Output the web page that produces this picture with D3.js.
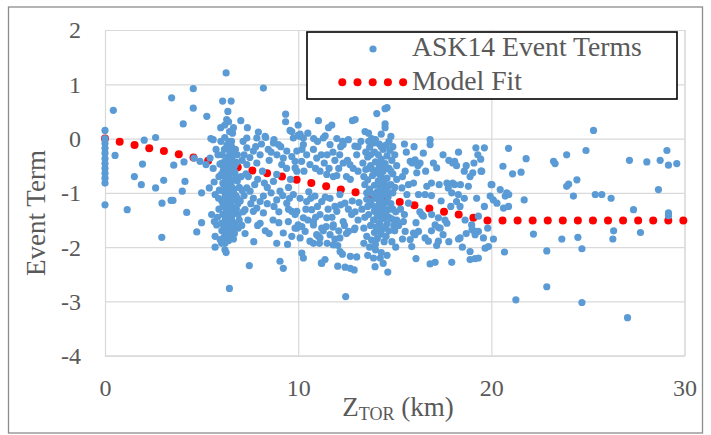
<!DOCTYPE html>
<html>
<head>
<meta charset="utf-8">
<script src="https://cdn.jsdelivr.net/npm/d3@7/dist/d3.min.js"></script>
<style>
  html, body { margin: 0; padding: 0; background: #fff; }
  svg { display: block; }
  text { font-family: "Liberation Serif", "Times New Roman", serif; fill: #595959; }
</style>
</head>
<body>
<svg id="chart" width="711" height="435"></svg>
<script>
// ---------------- DATA ----------------
const xTicks = [0, 10, 20, 30];
const yTicks = [2, 1, 0, -1, -2, -3, -4];
const seriesNames = ["ASK14 Event Terms", "Model Fit"];
const xTitle = "Z";
const xTitleSub = "TOR";
const xTitleUnit = " (km)";
const yTitle = "Event Term";

// ASK14 event terms: [Z_TOR (km), event term]
const eventTerms = [
  // Z_TOR = 0
  [0,0.15],[0,0.0],[0,-0.09],[0,-0.18],[0,-0.27],[0,-0.37],[0,-0.46],[0,-0.55],[0,-0.64],[0,-0.73],[0,-0.82],[0,-1.22],
  // 0 - 6 km
  [0.43,0.52],[0.52,-0.31],[1.15,-1.31],[1.52,-0.7],[1.88,-0.85],[1.94,-0.47],[2.03,-0.03],[2.62,0.02],[2.62,-0.91],
  [3.04,-0.77],[2.95,-1.19],[3.42,-1.14],[3.52,-1.14],[3.45,0.75],[3.56,-0.49],[4.05,0.27],[4.09,-0.43],[4.0,-0.97],
  [4.14,-0.79],[4.23,-1.36],[2.94,-1.82],[4.57,0.92],[4.57,0.56],[4.61,-0.36],[4.75,-1.72],[4.92,-0.42],[5.0,-1.0],
  [5.0,-1.55],[5.23,-0.48],[5.27,0.41],[5.4,-0.91],[5.44,-0.36],[5.48,0.0],[5.6,-0.02],[5.52,-1.4],[5.7,-1.03],
  [5.82,-1.45],[5.78,-1.59],[5.66,-1.53],[5.7,-1.8],[5.96,-1.86],[6.21,-2.05],[5.7,-2.0],[5.99,0.2],[5.6,-0.55],[5.65,-0.8],[5.75,-0.2],
  // dense band near 6-7 km
  [6.27,1.21],[6.09,0.69],[6.53,0.69],[6.36,0.5],[6.3,0.35],[6.4,0.31],[6.45,0.13],[6.6,0.1],[6.2,0.02],
  [6.42,-0.05],[6.31,-0.12],[6.55,-0.15],[6.18,-0.2],[6.47,-0.24],[6.66,-0.28],[6.05,-0.3],[6.36,-0.33],[6.58,-0.38],
  [6.24,-0.41],[6.45,-0.45],[6.8,-0.44],[5.95,-0.47],[6.13,-0.52],[6.38,-0.55],[6.62,-0.53],[6.28,-0.6],[6.5,-0.63],
  [6.72,-0.62],[6.02,-0.66],[6.2,-0.7],[6.43,-0.72],[6.6,-0.76],[6.33,-0.8],[6.85,-0.78],[6.1,-0.82],[6.52,-0.85],
  [6.25,-0.88],[6.4,-0.92],[6.68,-0.93],[5.92,-0.95],[6.15,-0.97],[6.35,-1.0],[6.55,-1.02],[6.78,-1.05],[6.22,-1.07],
  [6.45,-1.1],[6.62,-1.13],[6.05,-1.15],[6.3,-1.17],[6.5,-1.2],[6.88,-1.2],[6.18,-1.25],[6.4,-1.27],[6.6,-1.3],
  [6.28,-1.33],[6.47,-1.37],[6.7,-1.38],[6.1,-1.4],[6.35,-1.43],[6.55,-1.47],[6.22,-1.5],[6.42,-1.53],[6.65,-1.55],
  [6.3,-1.6],[6.5,-1.63],[6.15,-1.66],[6.4,-1.7],[6.6,-1.72],[6.3,-1.78],[6.48,-1.83],[6.75,-1.6],[6.95,-1.5],
  [6.03,-1.56],[6.85,-0.3],[6.95,-0.9],[7.0,-1.15],[6.8,-1.3],[7.05,-0.7],[6.38,-0.15],[6.5,-0.4],
  [6.25,-0.5],[6.4,-0.65],[6.35,-0.68],[6.55,-0.9],[6.3,-0.95],[6.45,-1.05],[6.4,-1.15],[6.55,-1.25],[6.35,-1.3],
  [6.45,-1.45],[6.5,-1.4],[6.32,-1.52],[6.58,-1.6],[6.25,-0.78],[6.65,-1.0],[6.2,-1.12],[6.12,-0.6],[6.7,-0.5],
  [6.44,-2.76],[6.27,-2.1],[6.04,-1.93],[6.21,-1.93],[6.47,-1.74],[6.64,-1.7],[6.9,-1.65],[7.08,-1.6],
  [5.85,-0.3],[5.9,-0.7],[5.88,-1.1],[5.9,-1.3],[6.0,-0.05],[6.05,-0.45],[6.15,-0.85],[6.1,-1.25],[6.05,-1.7],
  [6.75,-0.2],[6.8,-0.7],[6.85,-1.1],[6.9,-1.4],[6.7,-1.75],[7.1,-0.4],[7.1,-0.95],[7.15,-1.35],[6.55,-0.05],
  [6.65,0.2],[6.2,0.25],[6.4,-1.88],[6.15,-1.82],[6.65,-1.85],
  // 7 - 10 km
  [7.03,0.33],[7.37,0.2],[7.94,0.12],[8.2,0.93],[8.32,0.02],[8.75,-0.02],[9.35,0.45],[9.35,0.31],[9.58,0.15],
  [7.34,0.01],[7.86,0.01],[8.29,0.04],[7.34,-0.17],[7.68,-0.23],[8.03,-0.3],[7.34,-0.48],[7.86,-0.45],
  [8.72,-0.79],[8.89,-0.66],[9.15,-0.48],[9.23,-0.36],[9.41,-0.23],[8.98,-0.11],[8.72,-0.08],[9.67,-0.33],[9.84,-0.42],
  [9.93,-0.6],[7.68,-1.1],[8.03,-1.16],[8.2,-1.06],[7.86,-1.28],[8.2,-1.37],[7.34,-0.91],[7.51,-0.97],[8.03,-1.56],
  [8.89,-1.13],[9.06,-0.97],[9.41,-1.19],[9.67,-1.34],[9.84,-1.4],[9.49,-1.53],[9.23,-1.74],[9.67,-1.8],[9.93,-1.65],
  [8.89,-1.93],[9.06,-2.26],[9.23,-2.39],[7.47,-2.34],[7.25,-1.31],[7.68,-1.34],[7.42,-0.7],[7.2,-0.3],
  [8.5,-0.4],[8.6,-1.0],[8.4,-0.9],[7.9,-0.75],[8.15,-0.6],[9.0,-1.35],[8.7,-1.5],[8.3,-1.7],[7.7,-1.9],[9.5,-0.9],
  [7.15,-0.05],[7.5,-0.35],[7.8,-0.15],[8.1,-0.1],[8.45,-0.2],[8.9,-0.3],[9.1,-0.15],[7.3,-0.65],[7.75,-0.85],
  [8.25,-0.82],[9.4,-0.55],[7.2,-1.05],[7.55,-1.2],[8.4,-1.2],[8.75,-1.25],[9.2,-1.05],
  [9.5,-1.3],[7.4,-1.5],[7.9,-1.6],[8.5,-1.75],[9.0,-1.55],[9.45,-1.95],[7.25,-1.75],[8.6,-0.25],[9.6,-0.75],[9.55,-1.1],
  // 10 - 11.3 km
  [10.0,0.25],[10.0,0.06],[9.67,0.13],[10.1,0.08],[10.27,0.01],[11.05,0.33],[11.0,-0.05],[9.75,0.01],[10.1,0.04],
  [10.27,-0.11],[9.93,-0.23],[10.44,-0.3],[10.79,-0.2],[10.18,-0.42],[10.61,-0.48],[10.96,-0.36],[11.13,-0.6],[9.84,-0.54],
  [9.75,-1.03],[10.1,-1.1],[10.44,-1.16],[10.87,-1.06],[11.22,-1.16],
  [9.93,-1.34],[10.27,-1.46],[10.7,-1.31],[11.13,-1.4],[9.84,-1.65],[10.36,-1.71],[10.79,-1.59],[11.22,-1.65],[10.1,-1.83],
  [10.61,-1.89],[11.05,-1.8],[10.19,-1.62],[10.0,-1.59],[10.19,-2.11],[10.27,-2.2],[10.79,-1.53],[10.96,-1.77],[11.13,-1.83],
  [10.79,-1.93],[11.22,-2.3],[11.39,-2.23],[11.1,-1.93],[11.5,-1.93],
  [10.5,0.1],[10.8,0.0],[10.3,-0.6],[10.55,-0.98],[10.9,-0.55],[10.4,-1.3],[10.65,-1.1],[11.0,-1.25],[10.5,-1.5],
  [10.9,-1.45],[11.2,-0.3],[10.2,-0.2],
  // 11.3 - 13.2 km
  [11.57,0.2],[11.74,0.25],[11.3,0.01],[12.81,0.33],[12.3,-0.05],[11.65,-0.11],[11.82,-0.7],[12.33,-0.11],[12.33,-0.45],
  [12.94,-0.14],[13.03,-0.3],[12.68,-0.48],[11.48,-0.66],[11.65,-1.1],[12.16,-1.03],
  [12.42,-1.19],[12.0,-1.34],[11.48,-1.46],[11.82,-1.59],[12.33,-1.53],[12.77,-1.4],[12.94,-1.65],[11.65,-1.77],[12.16,-1.83],
  [12.6,-1.71],[12.05,-1.97],[12.29,-2.13],[12.7,-2.17],[13.03,-2.18],[12.05,-2.35],[12.43,-2.37],[12.7,-2.39],[12.9,-2.42],
  [12.46,-2.91],[11.82,-1.96],[12.17,-2.08],[11.2,-2.29],[11.45,-1.62],[11.8,-1.63],[12.1,-1.7],[12.5,-1.75],[12.9,-1.68],
  [11.5,-0.3],[11.9,-0.4],[12.1,-0.55],[12.5,-0.7],[12.8,-1.15],[11.9,-1.25],[12.2,-1.22],[12.6,-1.3],
  [11.4,-1.08],[13.1,-0.6],[13.1,-1.5],
  [11.4,0.05],[12.0,0.0],[12.6,-0.02],[11.35,-0.45],[11.6,-0.55],[11.8,-0.25],[12.15,-0.3],[12.55,-0.4],[12.85,-0.55],
  [11.55,-1.3],[11.75,-1.45],[12.7,-0.75],[13.15,-1.18],[12.95,-1.35],[12.4,-1.6],
  [11.9,-1.85],[11.3,-1.7],[12.2,-0.15],[13.1,-0.15],[12.0,-0.68],
  // dense band near 13.5-15 km
  [14.6,0.57],[14.5,0.55],[14.07,0.46],[14.5,0.27],[14.5,0.2],[12.95,0.35],[13.46,0.13],[13.64,0.1],[14.3,0.08],
  [14.8,0.04],[14.0,-0.02],[13.8,0.0],[13.9,-0.08],[14.2,-0.1],[14.55,-0.12],[13.7,-0.16],[14.4,-0.2],[14.75,-0.22],
  [13.95,-0.25],[14.15,-0.3],[14.6,-0.32],[13.6,-0.34],[14.3,-0.38],[14.85,-0.4],[14.0,-0.43],[14.5,-0.46],[13.75,-0.5],
  [14.2,-0.52],[14.7,-0.55],[13.5,-0.57],[14.4,-0.6],[14.05,-0.63],[14.9,-0.65],[13.85,-0.68],[14.3,-0.7],[14.6,-0.73],
  [13.6,-0.76],[14.15,-0.78],[14.45,-0.82],[14.8,-0.85],[13.95,-0.86],[14.25,-0.9],[13.7,-0.93],[14.55,-0.95],[14.1,-0.98],
  [14.9,-1.0],[13.85,-1.02],[14.35,-1.05],[14.65,-1.08],[14.0,-1.1],[13.55,-1.12],[14.2,-1.15],[14.5,-1.18],[14.8,-1.2],
  [13.8,-1.22],[14.1,-1.25],[14.4,-1.28],[14.7,-1.3],[13.95,-1.33],[14.25,-1.36],[14.55,-1.38],[13.65,-1.4],[14.1,-1.43],
  [14.4,-1.47],[14.85,-1.48],[13.9,-1.5],[14.2,-1.55],[14.6,-1.57],[13.75,-1.6],[14.05,-1.63],[14.35,-1.66],[14.7,-1.7],
  [13.95,-1.73],[14.3,-1.76],[14.55,-1.8],[14.1,-1.84],[13.8,-1.87],[14.45,-1.9],[13.4,-1.93],[13.7,-2.0],[14.0,-2.05],
  [14.3,-2.1],[14.6,-2.15],[13.98,-2.36],[14.64,-2.46],[14.25,-2.2],[14.3,-0.15],[14.45,-0.55],[14.25,-0.45],[14.35,-0.85],
  [14.3,-1.15],[14.45,-1.35],[14.25,-1.6],[14.4,-0.98],[14.2,-0.65],[14.5,-0.75],[14.55,-1.45],[14.15,-1.02],[14.0,-1.35],
  [14.65,-0.88],[13.9,-0.58],[14.35,-1.25],[14.15,-1.7],[14.5,-1.65],[13.6,-1.25],[13.45,-0.85],[13.35,-0.45],[13.3,-1.3],
  [15.0,-0.3],[15.1,-0.75],[15.05,-1.35],[15.0,-1.7],[13.25,-0.05],[13.4,-1.65],
  [13.5,-0.25],[13.65,-0.05],[14.7,-0.05],[14.9,-0.15],[15.1,-0.5],[13.4,-0.7],[13.55,-1.0],[13.45,-1.45],[15.0,-0.9],
  [15.1,-1.5],[13.55,-1.8],[14.85,-1.9],[15.05,-2.0],[13.6,-2.15],[14.0,-1.95],[14.7,-1.45],[14.75,-1.0],
  [13.75,-0.3],[13.65,-0.55],[13.75,-1.15],[14.8,-0.6],[14.9,-1.3],[14.95,-1.6],[13.9,-2.2],[14.4,-2.3],
  // 15 - 20 km
  [15.54,-0.6],[15.8,-0.42],[16.05,-0.39],[16.31,-0.45],[16.48,-0.27],[16.83,-0.02],[16.83,-0.11],[17.0,-0.45],[17.17,-0.54],
  [16.14,-0.63],[15.71,-0.85],[15.97,-0.82],[15.37,-0.91],[15.63,-1.03],[15.71,-1.19],[16.23,-1.03],[16.57,-1.03],
  [16.91,-1.4],[17.26,-1.46],[17.6,-1.5],[17.09,-1.59],[17.35,-1.65],[16.23,-1.71],[16.57,-1.83],[16.74,-1.89],[17.26,-1.89],
  [18.1,-0.42],[18.6,-0.6],[19.04,-0.63],[19.47,-0.6],[19.64,-0.17],[19.99,-0.85],[18.1,-0.85],[17.77,-0.91],[17.95,-1.0],
  [18.29,-1.03],[18.2,-1.16],[18.38,-1.25],[18.81,-0.88],[19.24,-1.1],[19.33,-1.43],[19.64,-1.25],[18.64,-1.5],[18.98,-1.59],
  [19.33,-1.71],[19.81,-1.65],[18.38,-1.83],[19.16,-1.77],[19.59,-1.83],[19.85,-1.99],[15.88,-1.99],[16.1,-2.21],[16.83,-2.31],
  [17.09,-2.28],[17.17,-1.97],[17.95,-2.28],[18.9,-2.08],[18.9,-2.23],[19.16,-2.21],[19.33,-2.2],[19.68,-2.02],[15.8,-1.86],
  [16.05,-1.77],[17.5,-1.77],[17.7,-1.56],[17.26,-1.64],[16.48,-1.43],[16.4,-1.4],[15.54,-1.71],[15.97,-1.74],[15.45,-1.53],
  [18.3,-1.85],[19.0,-1.68],[19.1,-1.7],[19.2,-1.72],[19.2,-0.17],[19.3,-0.3],[19.45,-0.38],[18.0,-0.45],[18.2,-0.5],
  [15.9,-0.45],[16.2,-0.5],[16.66,-0.88],[16.9,-0.82],[17.3,-0.85],[17.7,-0.82],[18.0,-0.82],[18.4,-0.85],[18.7,-0.5],
  [18.9,-0.7],[19.1,-0.45],[15.3,-1.3],[15.5,-1.4],[16.3,-1.35],[15.2,-1.6],
  [15.5,-0.1],[15.6,-0.25],[16.0,-0.15],[16.6,-0.6],[17.5,-0.3],[17.8,-0.4],[18.3,-0.25],[15.4,-0.7],[16.9,-1.05],
  [17.4,-1.15],[17.9,-1.25],[18.6,-1.1],[16.1,-1.55],[16.9,-1.7],[17.8,-1.9],[18.7,-1.75],[15.4,-1.85],[18.5,-2.0],
  // 20 - 30 km
  [20.89,-0.18],[20.6,-0.51],[21.1,-0.65],[21.54,-0.62],[21.8,-0.37],[23.22,-0.42],[23.3,-0.46],[23.9,-0.3],[24.9,-0.22],
  [25.29,0.15],[27.15,-0.4],[28.05,-0.43],[28.74,-0.4],[29.09,-0.22],[29.17,-0.49],[29.6,-0.46],[19.5,-0.6],[20.03,-0.85],
  [20.46,-0.94],[20.8,-1.0],[20.9,-1.03],[20.72,-1.06],[19.94,-1.06],[20.1,-1.13],[20.29,-1.19],[20.63,-1.28],[20.89,-1.25],
  [21.7,-1.13],[23.9,-0.88],[24.0,-0.84],[24.43,-0.76],[24.25,-1.06],[25.38,-1.03],[25.72,-1.03],[26.2,-1.1],[28.65,-0.94],
  [27.36,-1.31],[29.17,-1.37],[29.17,-1.42],[22.18,-1.76],[23.65,-1.85],[24.48,-1.82],[24.69,-2.03],[22.87,-2.07],[26.33,-1.7],
  [26.29,-1.85],[27.72,-1.73],[20.11,-1.85],[20.68,-2.09],[22.87,-2.73],[21.27,-2.97],[24.69,-3.02],[27.05,-3.3]
];

// Model fit: [Z_TOR (km), fitted event term]
const fitX = [0, 0.76, 1.53, 2.29, 3.05, 3.82, 4.58, 5.34, 6.1, 6.87, 7.63, 8.39, 9.16, 9.92, 10.68, 11.45,
  12.21, 12.97, 13.73, 14.5, 15.26, 16.02, 16.79, 17.55, 18.31, 19.07, 19.8, 20.58, 21.36, 22.14, 22.92,
  23.7, 24.48, 25.26, 26.04, 26.82, 27.6, 28.38, 29.16, 29.94];
const fitY = [0, -0.06, -0.12, -0.18, -0.23, -0.29, -0.35, -0.41, -0.47, -0.53, -0.59, -0.64, -0.7, -0.76,
  -0.82, -0.88, -0.94, -0.99, -1.05, -1.11, -1.17, -1.23, -1.29, -1.35, -1.4, -1.46, -1.51, -1.51, -1.51,
  -1.51, -1.51, -1.51, -1.51, -1.51, -1.51, -1.51, -1.51, -1.51, -1.51, -1.51];

// ---------------- CHART ----------------
const svg = d3.select("#chart");
const W = 711, H = 435;
const plot = { left: 105, right: 684.5, top: 30, bottom: 355.7 };
const BLUE = "#5B9BD5", RED = "#FF0000", GRID = "#d9d9d9", TXT = "#595959";
const SERIF = '"Liberation Serif", "Times New Roman", serif';

svg.append("rect").attr("x", 0).attr("y", 0).attr("width", W).attr("height", H).attr("fill", "#fff");
svg.append("rect").attr("x", 8.5).attr("y", 7).attr("width", 694).attr("height", 426)
  .attr("fill", "none").attr("stroke", "#8c8c8c").attr("stroke-width", 1.3);

const x = d3.scaleLinear().domain([0, 30]).range([plot.left, plot.right]);
const y = d3.scaleLinear().domain([-4, 2]).range([plot.bottom, plot.top]);

// horizontal gridlines + y tick labels
const yAxis = d3.axisLeft(y).tickValues(yTicks).tickFormat(d => String(d))
  .tickSize(-(plot.right - plot.left)).tickPadding(24);
const gy = svg.append("g").attr("transform", `translate(${plot.left},0)`).call(yAxis)
  .attr("font-family", SERIF).attr("font-size", 24);
gy.select(".domain").attr("stroke", GRID);
gy.selectAll(".tick line").attr("stroke", GRID).attr("stroke-width", 1.2);
gy.selectAll(".tick text").attr("fill", TXT).style("font-size", "24px")
  .style("font-family", SERIF).attr("dy", "0.33em");

// vertical gridlines + x tick labels
const xAxis = d3.axisBottom(x).tickValues(xTicks).tickFormat(d => String(d))
  .tickSize(-(plot.bottom - plot.top)).tickPadding(23);
const gx = svg.append("g").attr("transform", `translate(0,${plot.bottom})`).call(xAxis)
  .attr("font-family", SERIF).attr("font-size", 24);
gx.select(".domain").attr("stroke", GRID);
gx.selectAll(".tick line").attr("stroke", GRID).attr("stroke-width", 1.2);
gx.selectAll(".tick text").attr("fill", TXT).style("font-size", "24px")
  .style("font-family", SERIF);

// model fit (drawn beneath the event terms)
const fitData = fitX.map((v, i) => [v, fitY[i]]);
svg.append("g").selectAll("circle").data(fitData).join("circle")
  .attr("cx", d => x(d[0])).attr("cy", d => y(d[1])).attr("r", 4).attr("fill", RED);

// event terms
svg.append("g").selectAll("circle").data(eventTerms).join("circle")
  .attr("cx", d => x(d[0])).attr("cy", d => y(d[1])).attr("r", 3.6).attr("fill", BLUE);

// axis titles
const xt = svg.append("text").attr("x", 398).attr("y", 416).attr("text-anchor", "middle")
  .style("font-size", "27px");
xt.append("tspan").text(xTitle);
xt.append("tspan").text(xTitleSub).style("font-size", "18px").attr("dy", 4);
xt.append("tspan").text(xTitleUnit).attr("dy", -4);

svg.append("text").attr("transform", "translate(45,213) rotate(-90)")
  .attr("text-anchor", "middle").style("font-size", "27px").text(yTitle);

// legend
const lg = svg.append("g");
lg.append("rect").attr("x", 307).attr("y", 32).attr("width", 370).attr("height", 67)
  .attr("fill", "#fff").attr("stroke", "#000").attr("stroke-width", 1.6);
lg.append("circle").attr("cx", 373).attr("cy", 49).attr("r", 3.6).attr("fill", BLUE);
const legDots = [342.3, 357.5, 372.7, 387.9, 403.1];
lg.selectAll(".ld").data(legDots).join("circle").attr("class", "ld")
  .attr("cx", d => d).attr("cy", 82.3).attr("r", 4).attr("fill", RED);
lg.append("text").attr("x", 412).attr("y", 56).style("font-size", "27.7px").text(seriesNames[0]);
lg.append("text").attr("x", 412).attr("y", 90).style("font-size", "27.7px").text(seriesNames[1]);
</script>
</body>
</html>
